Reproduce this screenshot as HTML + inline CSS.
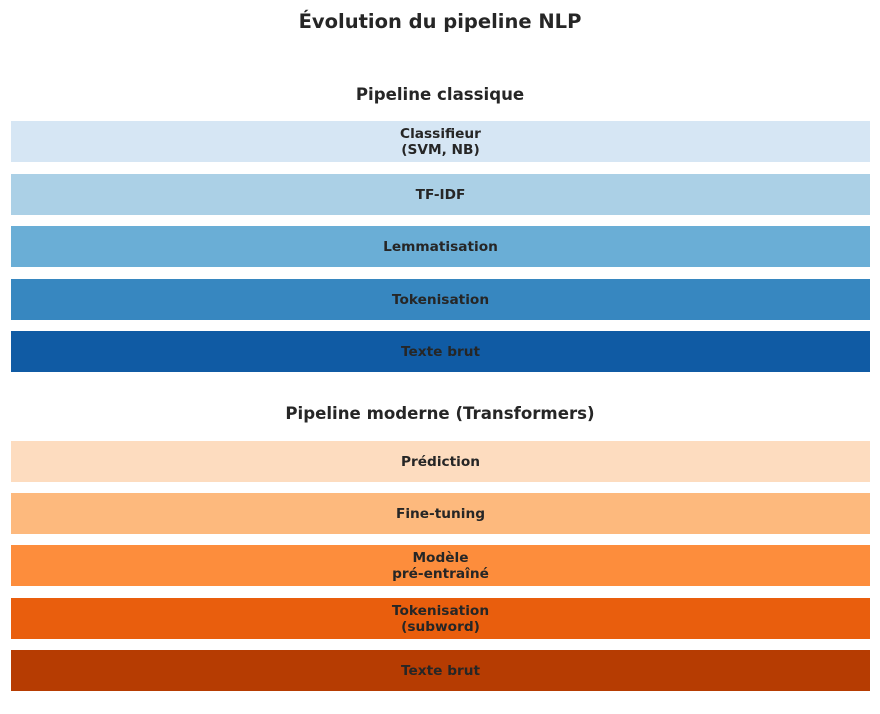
<!DOCTYPE html>
<html><head><meta charset="utf-8"><style>
body{margin:0;width:880px;height:714px;background:#fff;position:relative;font-family:"DejaVu Sans","Liberation Sans",sans-serif;color:#262626;overflow:hidden}
.t{position:absolute;left:0;width:880px;text-align:center;font-weight:bold}
.b{position:absolute;left:11px;width:859px;height:41px;display:flex;align-items:center;justify-content:center;text-align:center;font-weight:bold;font-size:13.7px;line-height:16px}
</style></head><body>
<div class="t" style="top:10px;font-size:19.5px">Évolution du pipeline NLP</div>
<div class="t" style="top:85px;font-size:16.6px">Pipeline classique</div>
<div class="b" style="top:121px;background:#d6e6f4">Classifieur<br>(SVM, NB)</div>
<div class="b" style="top:174px;background:#abd0e6">TF-IDF</div>
<div class="b" style="top:226px;background:#6aaed6">Lemmatisation</div>
<div class="b" style="top:279px;background:#3787c0">Tokenisation</div>
<div class="b" style="top:331px;background:#105ba4">Texte brut</div>
<div class="t" style="top:404px;font-size:16.6px">Pipeline moderne (Transformers)</div>
<div class="b" style="top:441px;background:#fddcbf">Prédiction</div>
<div class="b" style="top:493px;background:#fdb97d">Fine-tuning</div>
<div class="b" style="top:545px;background:#fd8d3c">Modèle<br>pré-entraîné</div>
<div class="b" style="top:598px;background:#e95e0d">Tokenisation<br>(subword)</div>
<div class="b" style="top:650px;background:#b63c02">Texte brut</div>
</body></html>
